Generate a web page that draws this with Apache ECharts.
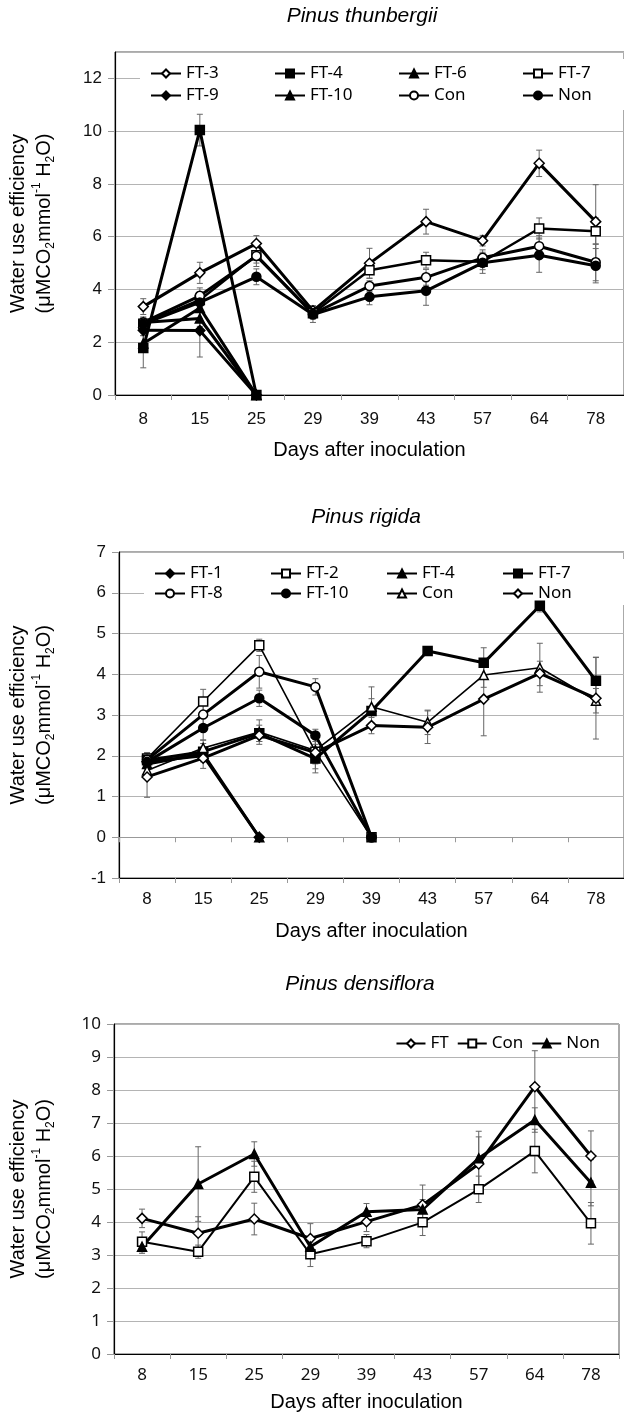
<!DOCTYPE html>
<html lang="en">
<head>
<meta charset="UTF-8">
<title>Water use efficiency</title>
<script src="https://cdn.jsdelivr.net/npm/echarts@6/dist/echarts.min.js"></script>
<style>
html, body { margin: 0; padding: 0; background: #fff; }
#chart { width: 624px; height: 1414px; }
</style>
</head>
<body>
<div id="chart"></div>
<script>
// days after inoculation
const days = ['8', '15', '25', '29', '39', '43', '57', '64', '78'];

// Pinus thunbergii
const ptFT3 = [3.35, 4.63, 5.74, 3.19, 4.99, 6.57, 5.85, 8.78, 6.57];
const ptFT4 = [1.78, 10.04, 0];
const ptFT6 = [2.75, 2.9, 0];
const ptFT7 = [2.7, 3.6, 5.3, 3.1, 4.73, 5.11, 5.05, 6.31, 6.21];
const ptFT9 = [2.45, 2.44, 0];
const ptFT10 = [1.95, 3.3, 0];
const ptCon = [2.75, 3.76, 5.27, 3.08, 4.13, 4.46, 5.2, 5.64, 5.03];
const ptNon = [2.7, 3.51, 4.48, 3.05, 3.72, 3.95, 5.01, 5.3, 4.9];
const ptErrFT3 = [0.3, 0.4, 0.3, 0.2, 0.57, 0.47, 0.2, 0.5, 1.4];
const ptErrFT4 = [0.75, 0.6, 0];
const ptErrFT6 = [0.2, 0.3, 0];
const ptErrFT7 = [0.2, 0.3, 0.3, 0.2, 0.3, 0.3, 0.3, 0.4, 0.5];
const ptErrFT9 = [0.2, 1.0, 0];
const ptErrFT10 = [0.3, 0.4, 0];
const ptErrCon = [0.2, 0.3, 0.4, 0.2, 0.2, 0.3, 0.3, 0.4, 0.7];
const ptErrNon = [0.2, 0.3, 0.3, 0.3, 0.3, 0.55, 0.4, 0.65, 0.65];

// Pinus rigida
const prFT1 = [1.85, 2.0, 0];
const prFT2 = [1.93, 3.33, 4.71, 2.1, 0];
const prFT4 = [1.8, 2.05, 0];
const prFT7 = [1.89, 2.1, 2.55, 1.93, 3.1, 4.57, 4.28, 5.68, 3.84];
const prFT8 = [1.9, 3.01, 4.06, 3.69, 0];
const prFT10 = [1.85, 2.68, 3.41, 2.5, 0];
const prCon = [1.64, 2.19, 2.58, 2.13, 3.2, 2.82, 3.98, 4.16, 3.35];
const prNon = [1.48, 1.94, 2.5, 2.08, 2.74, 2.7, 3.39, 4.02, 3.41];
const prErrFT1 = [0.15, 0.15, 0];
const prErrFT2 = [0.15, 0.3, 0.15, 0.3, 0];
const prErrFT4 = [0.15, 0.15, 0];
const prErrFT7 = [0.15, 0.2, 0.2, 0.35, 0.3, 0.1, 0.37, 0.15, 0.58];
const prErrFT8 = [0.15, 0.25, 0.4, 0.2, 0];
const prErrFT10 = [0.15, 0.3, 0.2, 0.15, 0];
const prErrCon = [0.2, 0.2, 0.3, 0.3, 0.49, 0.3, 0.3, 0.6, 0.3];
const prErrNon = [0.5, 0.25, 0.15, 0.4, 0.2, 0.4, 0.9, 0.3, 1.0];

// Pinus densiflora
const pdFT = [4.11, 3.66, 4.09, 3.5, 4.01, 4.52, 5.76, 8.1, 6.0];
const pdCon = [3.4, 3.1, 5.37, 3.02, 3.42, 3.99, 4.99, 6.15, 3.96];
const pdNon = [3.25, 5.15, 6.06, 3.25, 4.31, 4.38, 5.93, 7.09, 5.19];
const pdErrFT = [0.28, 0.5, 0.48, 0.45, 0.3, 0.6, 0.82, 1.09, 0.76];
const pdErrCon = [0.3, 0.2, 0.47, 0.37, 0.2, 0.4, 0.4, 0.66, 0.63];
const pdErrNon = [0.2, 1.13, 0.37, 0.3, 0.25, 0.3, 0.82, 0.37, 0.7];

const ptNames = ['FT-3', 'FT-4', 'FT-6', 'FT-7', 'FT-9', 'FT-10', 'Con', 'Non'];
const prNames = ['FT-1', 'FT-2', 'FT-4', 'FT-7', 'FT-8', 'FT-10', 'Con', 'Non'];
const pdNames = ['FT', 'Con', 'Non'];

const sans = 'Liberation Sans, Arial, sans-serif';
const korean = 'Noto Sans, sans-serif';

// series names get a panel prefix so that the same label in two panels keeps its own marker
function line(panel, name, data, symbol, open, width, xi, yi) {
  return {
    name: panel + ':' + name, type: 'line', data: data,
    xAxisIndex: xi, yAxisIndex: yi,
    symbol: symbol,
    symbolSize: symbol === 'diamond' ? 10 : 9,
    showAllSymbol: true,
    lineStyle: { color: '#000', width: width },
    itemStyle: { color: open ? '#fff' : '#000', borderColor: '#000', borderWidth: 1.5 },
    emphasis: { disabled: true },
    z: 5
  };
}

function errBars(data, errs, xi, yi) {
  return {
    type: 'custom', xAxisIndex: xi, yAxisIndex: yi, z: 1, silent: true,
    data: data.map((v, i) => [i, v, errs[i]]),
    renderItem: function (params, api) {
      const i = api.value(0), v = api.value(1), e = api.value(2);
      if (!e) return null;
      const top = api.coord([i, v + e]);
      const bot = api.coord([i, v - e]);
      const st = { stroke: '#666', lineWidth: 1 };
      return {
        type: 'group',
        children: [
          { type: 'line', shape: { x1: top[0], y1: top[1], x2: bot[0], y2: bot[1] }, style: st },
          { type: 'line', shape: { x1: top[0] - 3, y1: top[1], x2: top[0] + 3, y2: top[1] }, style: st },
          { type: 'line', shape: { x1: bot[0] - 3, y1: bot[1], x2: bot[0] + 3, y2: bot[1] }, style: st }
        ]
      };
    }
  };
}

const yName = '{a|Water use efficiency}\n{a|(μMCO}{sub|2}{a|mmol}{sup|-1}{a| H}{sub|2}{a|O)}';
const yNameRich = {
  a: { fontSize: 20, fontFamily: sans, color: '#000', lineHeight: 26 },
  sub: { fontSize: 12, fontFamily: sans, color: '#000', lineHeight: 26, verticalAlign: 'bottom' },
  sup: { fontSize: 12, fontFamily: sans, color: '#000', lineHeight: 26, verticalAlign: 'top' }
};

function yAxis(gi, min, max, interval, gap, font) {
  return {
    type: 'value', gridIndex: gi, min: min, max: max, interval: interval,
    name: yName, nameLocation: 'middle', nameRotate: 90, nameGap: gap,
    nameTextStyle: { rich: yNameRich },
    axisLine: { show: true, lineStyle: { color: '#000', width: 1.2 } },
    axisTick: { show: true, length: 7, lineStyle: { color: '#999' } },
    axisLabel: { fontSize: 17, fontFamily: font, color: '#111', margin: 13, showMaxLabel: max === 13 ? false : true },
    splitLine: { lineStyle: { color: '#b4b4b4', width: 1 } }
  };
}

function xAxis(gi, margin, gap, font) {
  return {
    type: 'category', gridIndex: gi, data: days, boundaryGap: true,
    position: 'bottom',
    name: 'Days after inoculation', nameLocation: 'middle', nameGap: gap,
    nameTextStyle: { fontSize: 20, fontFamily: sans, color: '#000' },
    axisLine: { onZero: false, lineStyle: { color: '#000', width: 1.2 } },
    axisTick: { show: true, length: 5, lineStyle: { color: '#999' } },
    axisLabel: { fontSize: 17, fontFamily: font, color: '#111', margin: margin },
    splitLine: { show: false }
  };
}

const gridBox = { show: true, borderColor: '#555', borderWidth: 1, backgroundColor: 'transparent' };
const stripPanel = name => name.split(':')[1];

const chart = echarts.init(document.getElementById('chart'), null, { renderer: 'canvas' });

const option = {
  animation: false,
  backgroundColor: '#fff',
  title: [
    { text: 'Pinus thunbergii', left: 362, top: 6, textAlign: 'center', padding: 0,
      textStyle: { fontSize: 21, fontStyle: 'italic', fontWeight: 'normal', fontFamily: sans, color: '#000' } },
    { text: 'Pinus rigida', left: 366, top: 507, textAlign: 'center', padding: 0,
      textStyle: { fontSize: 21, fontStyle: 'italic', fontWeight: 'normal', fontFamily: sans, color: '#000' } },
    { text: 'Pinus densiflora', left: 360, top: 974, textAlign: 'center', padding: 0,
      textStyle: { fontSize: 21, fontStyle: 'italic', fontWeight: 'normal', fontFamily: sans, color: '#000' } }
  ],
  grid: [
    Object.assign({ left: 111, top: 52, width: 513, height: 343 }, gridBox),
    Object.assign({ left: 115, top: 552, width: 509, height: 326 }, gridBox),
    Object.assign({ left: 110, top: 1024, width: 509, height: 330 }, gridBox)
  ],
  legend: [
    { data: ptNames.map(n => 'pt:' + n), formatter: stripPanel,
      left: 140, top: 59, width: 500, orient: 'horizontal', itemGap: 5, padding: [6, 10],
      backgroundColor: '#fff', itemWidth: 30, itemHeight: 10,
      textStyle: { fontSize: 17, fontFamily: korean, color: '#000', width: 83, lineHeight: 16 } },
    { data: prNames.map(n => 'pr:' + n), formatter: stripPanel,
      left: 144, top: 559, width: 470, orient: 'horizontal', itemGap: 3, padding: [6, 10, 3, 10],
      backgroundColor: '#fff', itemWidth: 30, itemHeight: 10,
      textStyle: { fontSize: 17, fontFamily: korean, color: '#000', width: 77, lineHeight: 16 } },
    { data: pdNames.map(n => 'pd:' + n), formatter: stripPanel,
      right: 24, top: 1035, orient: 'horizontal', itemGap: 8, padding: 0,
      itemWidth: 29, itemHeight: 10,
      textStyle: { fontSize: 17, fontFamily: korean, color: '#000' } }
  ],
  xAxis: [
    xAxis(0, 16, 45, sans),
    xAxis(1, 13, 43, sans),
    {
      type: 'category', gridIndex: 1, data: days, boundaryGap: true, position: 'bottom',
      axisLine: { onZero: true, lineStyle: { color: '#999', width: 1 } },
      axisTick: { show: true, length: 5, lineStyle: { color: '#999' } },
      axisLabel: { show: false }, splitLine: { show: false }
    },
    xAxis(2, 13, 38, korean)
  ],
  yAxis: [
    yAxis(0, 0, 13, 2, 58, sans),
    yAxis(1, -1, 7, 1, 62, sans),
    yAxis(2, 0, 10, 1, 57, korean)
  ],
  series: [
    // Pinus thunbergii
    errBars(ptFT3, ptErrFT3, 0, 0), errBars(ptFT4, ptErrFT4, 0, 0),
    errBars(ptFT6, ptErrFT6, 0, 0), errBars(ptFT7, ptErrFT7, 0, 0),
    errBars(ptFT9, ptErrFT9, 0, 0), errBars(ptFT10, ptErrFT10, 0, 0),
    errBars(ptCon, ptErrCon, 0, 0), errBars(ptNon, ptErrNon, 0, 0),
    line('pt', 'FT-3', ptFT3, 'diamond', true, 3, 0, 0),
    line('pt', 'FT-4', ptFT4, 'rect', false, 3, 0, 0),
    line('pt', 'FT-6', ptFT6, 'triangle', false, 3, 0, 0),
    line('pt', 'FT-7', ptFT7, 'rect', true, 2.5, 0, 0),
    line('pt', 'FT-9', ptFT9, 'diamond', false, 3, 0, 0),
    line('pt', 'FT-10', ptFT10, 'triangle', false, 3, 0, 0),
    line('pt', 'Con', ptCon, 'circle', true, 3, 0, 0),
    line('pt', 'Non', ptNon, 'circle', false, 3, 0, 0),
    // Pinus rigida
    errBars(prFT1, prErrFT1, 1, 1), errBars(prFT2, prErrFT2, 1, 1),
    errBars(prFT4, prErrFT4, 1, 1), errBars(prFT7, prErrFT7, 1, 1),
    errBars(prFT8, prErrFT8, 1, 1), errBars(prFT10, prErrFT10, 1, 1),
    errBars(prCon, prErrCon, 1, 1), errBars(prNon, prErrNon, 1, 1),
    line('pr', 'FT-1', prFT1, 'diamond', false, 3, 1, 1),
    line('pr', 'FT-2', prFT2, 'rect', true, 1.6, 1, 1),
    line('pr', 'FT-4', prFT4, 'triangle', false, 3, 1, 1),
    line('pr', 'FT-7', prFT7, 'rect', false, 3, 1, 1),
    line('pr', 'FT-8', prFT8, 'circle', true, 3, 1, 1),
    line('pr', 'FT-10', prFT10, 'circle', false, 3, 1, 1),
    line('pr', 'Con', prCon, 'triangle', true, 1.6, 1, 1),
    line('pr', 'Non', prNon, 'diamond', true, 3, 1, 1),
    // Pinus densiflora
    errBars(pdFT, pdErrFT, 3, 2), errBars(pdCon, pdErrCon, 3, 2), errBars(pdNon, pdErrNon, 3, 2),
    line('pd', 'FT', pdFT, 'diamond', true, 3, 3, 2),
    line('pd', 'Con', pdCon, 'rect', true, 2, 3, 2),
    line('pd', 'Non', pdNon, 'triangle', false, 3, 3, 2)
  ]
};

chart.setOption(option);
</script>
</body>
</html>
